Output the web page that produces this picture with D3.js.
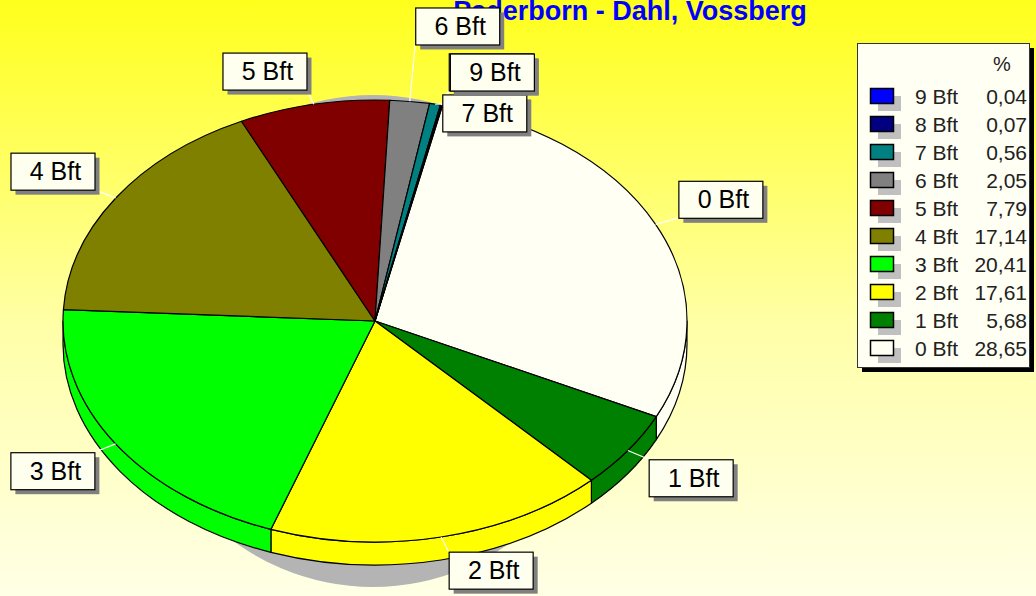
<!DOCTYPE html>
<html>
<head>
<meta charset="utf-8">
<script src="https://cdn.jsdelivr.net/npm/d3@7"></script>
<style>
html, body { margin: 0; padding: 0; overflow: hidden; background: #ffffe8; }
</style>
</head>
<body>
<div id="chart"></div>
<script>
// data
const chart_title = "Paderborn - Dahl, Vossberg"
const categories = ["0 Bft", "1 Bft", "2 Bft", "3 Bft", "4 Bft", "5 Bft", "6 Bft", "7 Bft", "8 Bft", "9 Bft"]
const percents = [28.65, 5.68, 17.61, 20.41, 17.14, 7.79, 2.05, 0.56, 0.07, 0.04]
const slice_colors = ["#fffff4", "#008000", "#ffff00", "#00ff00", "#808000", "#800000", "#808080", "#008080", "#000080", "#0000ff"]
const legend_header = "%"

// layout
const width = 1036
const height = 596
const cx = 375, cy = 321, rx = 312, ry = 221, depth = 23
const start_angle = 12.5 * Math.PI / 180
const label_w = 84, label_h = 37
// crowded small slices get pushed up / down by one label slot
const label_slot = [0, 0, 0, 0, 0, 0, -1, 1, 0, 0]

const svg = d3.select("#chart")
    .append("svg")
        .attr("width", width)
        .attr("height", height)
        .style("display", "block");

// background gradient
const grad = svg.append("defs")
    .append("linearGradient")
        .attr("id", "bg")
        .attr("x1", 0).attr("y1", 0)
        .attr("x2", 0).attr("y2", 1);
grad.append("stop").attr("offset", "0%").attr("stop-color", "#ffff1c");
grad.append("stop").attr("offset", "55%").attr("stop-color", "#ffffa8");
grad.append("stop").attr("offset", "100%").attr("stop-color", "#ffffe6");

svg.append("rect")
    .attr("width", width)
    .attr("height", height)
    .attr("fill", "url(#bg)");

// title
svg.append("text")
    .attr("x", 630)
    .attr("y", 20)
    .attr("text-anchor", "middle")
    .attr("font-family", "Liberation Sans, Arial, sans-serif")
    .attr("font-weight", "bold")
    .attr("font-size", "27px")
    .attr("fill", "#0000ff")
    .text(chart_title);

const arcs = d3.pie()
    .sort(null)
    .value(d => d)
    .startAngle(start_angle)
    .endAngle(start_angle + 2 * Math.PI)(percents);

function pt(a, dy = 0) {
    return [cx + rx * Math.sin(a), cy - ry * Math.cos(a) + dy];
}

function topPath(a0, a1) {
    const p0 = pt(a0), p1 = pt(a1);
    const large = (a1 - a0) > Math.PI ? 1 : 0;
    return `M${cx},${cy}L${p0[0]},${p0[1]}A${rx},${ry} 0 ${large} 1 ${p1[0]},${p1[1]}Z`;
}

function wallPath(a0, a1) {
    const b0 = Math.max(a0, Math.PI / 2);
    const b1 = Math.min(a1, 3 * Math.PI / 2);
    if (b0 >= b1) return null;
    const p0 = pt(b0), p1 = pt(b1), q0 = pt(b0, depth), q1 = pt(b1, depth);
    return `M${p0[0]},${p0[1]}A${rx},${ry} 0 0 1 ${p1[0]},${p1[1]}` +
           `L${q1[0]},${q1[1]}A${rx},${ry} 0 0 0 ${q0[0]},${q0[1]}Z`;
}

// shadow
svg.append("ellipse")
    .attr("cx", cx - 2)
    .attr("cy", cy + 20)
    .attr("rx", 240)
    .attr("ry", 246)
    .attr("fill", "#b4b4b4");

const pie_g = svg.append("g");

// side walls
pie_g.selectAll("path.wall")
    .data(arcs.filter(d => wallPath(d.startAngle, d.endAngle) != null))
    .join("path")
        .attr("class", "wall")
        .attr("d", d => wallPath(d.startAngle, d.endAngle))
        .attr("fill", d => slice_colors[d.index])
        .attr("stroke", "black")
        .attr("stroke-width", 1.2)
        .attr("stroke-linejoin", "round");

// top faces
pie_g.selectAll("path.top")
    .data(arcs)
    .join("path")
        .attr("class", "top")
        .attr("d", d => topPath(d.startAngle, d.endAngle))
        .attr("fill", d => slice_colors[d.index])
        .attr("stroke", "black")
        .attr("stroke-width", 1.2)
        .attr("stroke-linejoin", "round");

// labels
const labels = arcs.map(d => {
    const mid = (d.startAngle + d.endAngle) / 2;
    const s = Math.sin(mid), c = Math.cos(mid);
    const anchor = pt(mid);
    const bx = anchor[0] + Math.sign(s) * (label_w / 2 + 22 * Math.abs(s) + 3);
    const by = anchor[1] - Math.sign(c) * (label_h / 2 + 15 * Math.abs(c)) + label_slot[d.index] * 42;
    return { index: d.index, anchor: anchor, x: bx - label_w / 2, y: by - label_h / 2 };
});

// leader lines
svg.selectAll("line.leader")
    .data(labels)
    .join("line")
        .attr("class", "leader")
        .attr("x1", d => d.anchor[0])
        .attr("y1", d => d.anchor[1])
        .attr("x2", d => Math.max(d.x, Math.min(d.x + label_w, d.anchor[0])))
        .attr("y2", d => Math.max(d.y, Math.min(d.y + label_h, d.anchor[1])))
        .attr("stroke", "white")
        .attr("stroke-width", 1.2);

const label_g = svg.selectAll("g.label")
    .data(labels)
    .join("g")
        .attr("class", "label")
        .attr("transform", d => `translate(${d.x}, ${d.y})`);

label_g.append("rect")
    .attr("x", 5)
    .attr("y", 5)
    .attr("width", label_w)
    .attr("height", label_h)
    .attr("fill", "#808080");

label_g.append("rect")
    .attr("x", 0.5)
    .attr("y", 0.5)
    .attr("width", label_w)
    .attr("height", label_h)
    .attr("fill", "#fffff0")
    .attr("stroke", "black")
    .attr("stroke-width", 1.2);

label_g.append("text")
    .attr("x", label_w / 2 + 3)
    .attr("y", label_h / 2 + 9)
    .attr("text-anchor", "middle")
    .attr("font-family", "Liberation Sans, Arial, sans-serif")
    .attr("font-size", "25px")
    .attr("fill", "black")
    .text(d => categories[d.index]);

// legend
const lx = 857, ly = 43, lw = 172, lh = 324, row_h = 28;
svg.append("rect")
    .attr("x", lx + 5).attr("y", ly + 5)
    .attr("width", lw).attr("height", lh)
    .attr("fill", "black");
svg.append("rect")
    .attr("x", lx + 0.5).attr("y", ly + 0.5)
    .attr("width", lw).attr("height", lh)
    .attr("fill", "#fffff4")
    .attr("stroke", "#333")
    .attr("stroke-width", 1);

svg.append("text")
    .attr("x", 1002)
    .attr("y", 71)
    .attr("text-anchor", "middle")
    .attr("font-family", "Liberation Sans, Arial, sans-serif")
    .attr("font-size", "20px")
    .attr("fill", "#222")
    .text(legend_header);

const legend_order = d3.range(categories.length).reverse();
const leg = svg.selectAll("g.leg")
    .data(legend_order)
    .join("g")
        .attr("class", "leg")
        .attr("transform", (d, k) => `translate(0, ${96 + k * row_h})`);

leg.append("rect")
    .attr("x", 878).attr("y", 0)
    .attr("width", 23).attr("height", 15)
    .attr("fill", "#c0c0c0");
leg.append("rect")
    .attr("x", 870.5).attr("y", -7.5)
    .attr("width", 23).attr("height", 15)
    .attr("fill", d => slice_colors[d])
    .attr("stroke", "black")
    .attr("stroke-width", 1.5);
leg.append("text")
    .attr("x", 915)
    .attr("y", 8)
    .attr("font-family", "Liberation Sans, Arial, sans-serif")
    .attr("font-size", "21px")
    .attr("fill", "#222")
    .text(d => categories[d]);
leg.append("text")
    .attr("x", 1027)
    .attr("y", 8)
    .attr("text-anchor", "end")
    .attr("font-family", "Liberation Sans, Arial, sans-serif")
    .attr("font-size", "21px")
    .attr("fill", "#222")
    .text(d => percents[d].toFixed(2).replace(".", ","));
</script>
</body>
</html>
